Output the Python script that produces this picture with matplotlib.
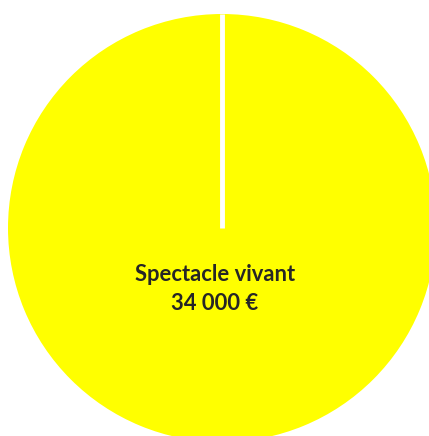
import matplotlib
matplotlib.use("Agg")
import matplotlib.pyplot as plt
import numpy as np

categories = ["Spectacle vivant"]
values = [34000]
value_labels = ["34 000 €"]
colors = ["#FFFF00"]

W, H = 429, 436
fig = plt.figure(figsize=(W / 100, H / 100), dpi=100)
ax = fig.add_axes([0, 0, 1, 1])

cx, cy, r = 222, H - 228, 214
start = 90
wedges, _ = ax.pie(values, colors=colors, startangle=start, counterclock=False,
                   center=(cx, cy), radius=r, frame=True,
                   wedgeprops=dict(edgecolor="none", linewidth=0))
# slice boundary (white separator from centre to start angle)
for w in wedges:
    a = np.deg2rad(start)
    ax.plot([w.center[0], w.center[0] + w.r * np.cos(a)],
            [w.center[1], w.center[1] + w.r * np.sin(a)],
            color="white", lw=3.5, solid_capstyle="butt")
ax.set_xlim(0, W)
ax.set_ylim(0, H)
ax.set_aspect("auto")
ax.axis("off")

label = f"{categories[0]}\n{value_labels[0]}"
ax.text(215, H - 289, label, ha="center", va="center", fontsize=15.8,
        fontweight="bold", family=["Lato", "DejaVu Sans"], color="#262626",
        linespacing=1.5)

fig.savefig("out.png", dpi=100)
